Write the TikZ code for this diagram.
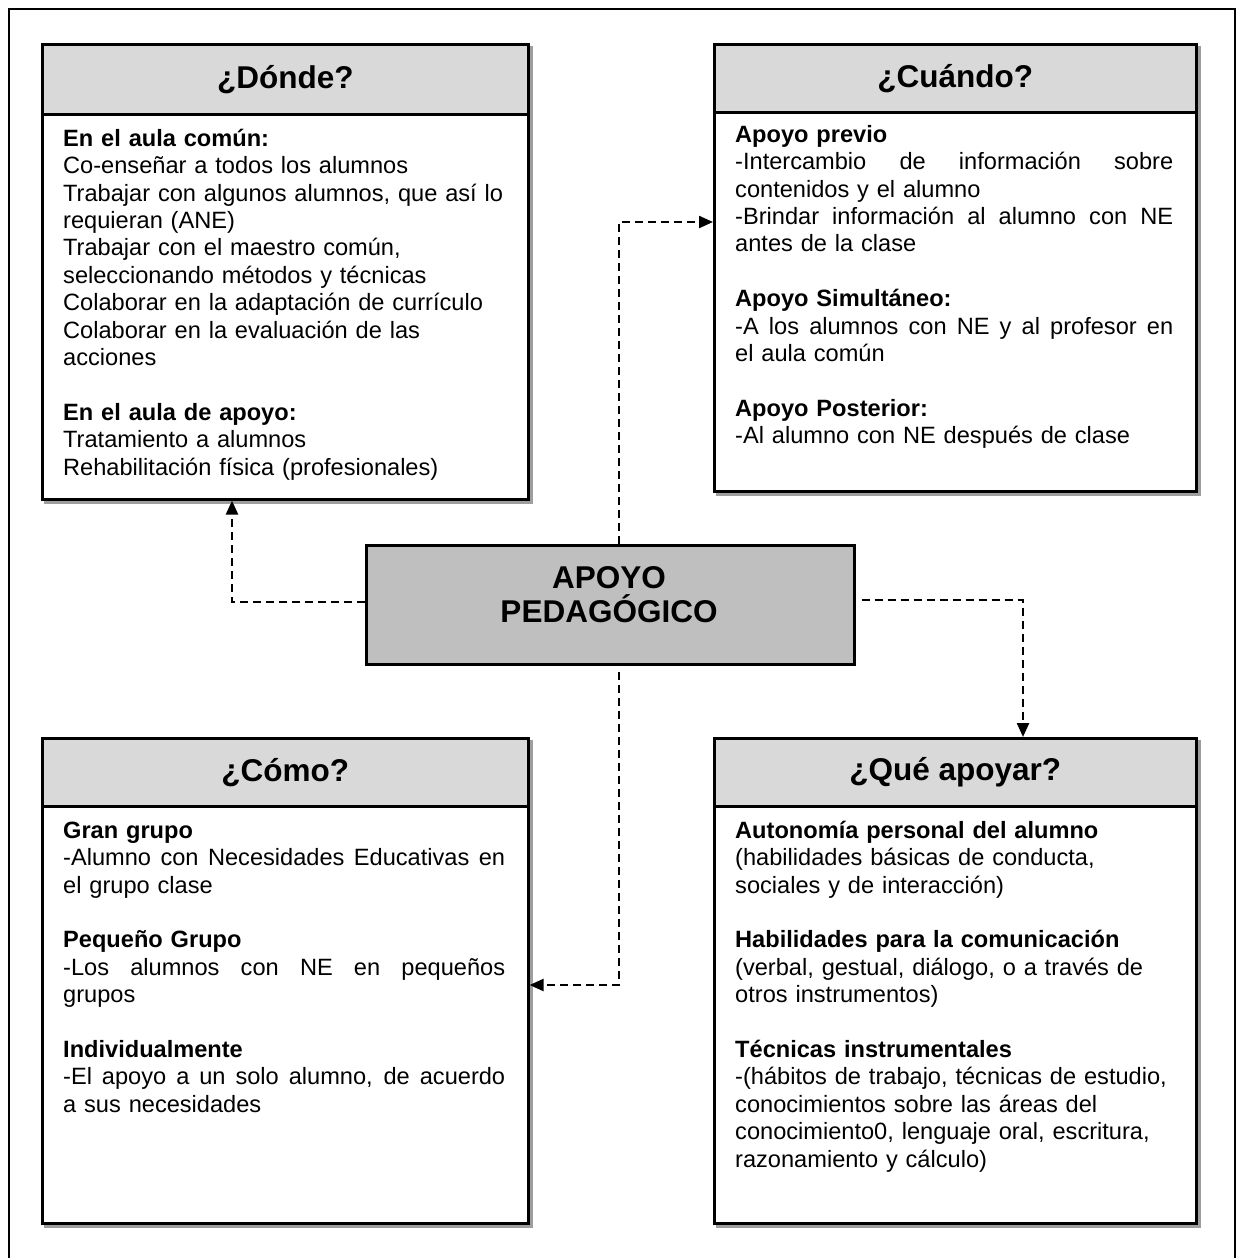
\documentclass[tikz,border=0pt]{standalone}
\usepackage{fontspec}
\setmainfont{Liberation Sans}
\usetikzlibrary{arrows.meta,calc}
\definecolor{hdrgray}{gray}{0.85}
\definecolor{midgray}{gray}{0.75}
\definecolor{shadowgray}{gray}{0.62}
\pgfdeclarelayer{bg}
\pgfsetlayers{bg,main}
% a line spread over the full text column (justified line)
\newcommand\jl[2][438pt]{\leavevmode\hbox to #1{\spaceskip=.278em plus 1fil\relax #2}}

\begin{document}
\begin{tikzpicture}[x=1pt,y=-1pt,
  frame/.style={line width=2pt},
  boxline/.style={draw, line width=2.6pt},
  hdr/.style={boxline, fill=hdrgray, inner sep=0pt, anchor=north west,
              font=\bfseries\fontsize{31.5}{36}\selectfont},
  bodybox/.style={boxline, fill=white, inner sep=0pt, anchor=north west},
  txt/.style={anchor=north west, inner sep=0pt, align=left, text width=470pt,
              font=\fontsize{23.6}{27.4}\selectfont},
  conn/.style={line width=2.3pt, dash pattern=on 8pt off 5pt,
               -{Triangle[length=14pt,width=12pt]}},
]
\useasboundingbox (0,0) rectangle (1237,1258);

% outer frame
\draw[frame] (9,1262) -- (9,9) -- (1235,9) -- (1235,1262);

% ---- ¿Dónde? ----
\node[bodybox, minimum width=486pt, minimum height=385pt] (db) at (41,113) {};
\node[hdr, minimum width=486pt, minimum height=70pt] (dh) at (41,43) {¿Dónde?};
\node[txt] (dt) at (63,127) {\strut\textbf{En el aula común:}\\
Co-enseñar a todos los alumnos\\
Trabajar con algunos alumnos, que así lo\\
requieran (ANE)\\
Trabajar con el maestro común,\\
seleccionando métodos y técnicas\\
Colaborar en la adaptación de currículo\\
Colaborar en la evaluación de las\\
acciones\\[27.4pt]
\textbf{En el aula de apoyo:}\\
Tratamiento a alumnos\\
Rehabilitación física (profesionales)};

% ---- ¿Cuándo? ----
\node[bodybox, minimum width=482pt, minimum height=379pt] (cb) at (713,111) {};
\node[hdr, minimum width=482pt, minimum height=68pt] (ch) at (713,43) {¿Cuándo?};
\node[txt] (cdt) at (735,123) {\strut\textbf{Apoyo previo}\\
\jl{-Intercambio de información sobre}\\
contenidos y el alumno\\
\jl{-Brindar información al alumno con NE}\\
antes de la clase\\[27.4pt]
\textbf{Apoyo Simultáneo:}\\
\jl{-A los alumnos con NE y al profesor en}\\
el aula común\\[27.4pt]
\textbf{Apoyo Posterior:}\\
-Al alumno con NE después de clase};

% ---- central node ----
\node[boxline, fill=midgray, inner sep=0pt, anchor=north west,
      minimum width=488pt, minimum height=119pt] (c) at (365,544) {};
\node[font=\bfseries\fontsize{31.5}{34}\selectfont, align=center] (ct) at (609,595) {APOYO\\PEDAGÓGICO};

% ---- ¿Cómo? ----
\node[bodybox, minimum width=486pt, minimum height=417pt] (ob) at (41,805) {};
\node[hdr, minimum width=486pt, minimum height=68pt] (oh) at (41,737) {¿Cómo?};
\node[txt] (ot) at (63,819) {\strut\textbf{Gran grupo}\\
\jl[442pt]{-Alumno con Necesidades Educativas en}\\
el grupo clase\\[27.4pt]
\textbf{Pequeño Grupo}\\
\jl[442pt]{-Los alumnos con NE en pequeños}\\
grupos\\[27.4pt]
\textbf{Individualmente}\\
\jl[442pt]{-El apoyo a un solo alumno, de acuerdo}\\
a sus necesidades};

% ---- ¿Qué apoyar? ----
\node[bodybox, minimum width=482pt, minimum height=417pt] (qb) at (713,805) {};
\node[hdr, minimum width=482pt, minimum height=68pt] (qh) at (713,737) {¿Qué apoyar?};
\node[txt] (qt) at (735,819) {\strut\textbf{Autonomía personal del alumno}\\
(habilidades básicas de conducta,\\
sociales y de interacción)\\[27.4pt]
\textbf{Habilidades para la comunicación}\\
(verbal, gestual, diálogo, o a través de\\
otros instrumentos)\\[27.4pt]
\textbf{Técnicas instrumentales}\\
-(hábitos de trabajo, técnicas de estudio,\\
conocimientos sobre las áreas del\\
conocimiento0, lenguaje oral, escritura,\\
razonamiento y cálculo)};

% ---- connectors ----
\coordinate (lb) at (232,602);
\coordinate (tb) at (619,222);
\coordinate (rb) at (1023,600);
\coordinate (bb) at (619,985);
\draw[conn] (c.west |- lb) -- (lb) -- (lb |- db.south);
\draw[conn] (tb |- c.north) -- (tb) -- (tb -| cb.west);
\draw[conn] ($(c.east |- rb)+(6,0)$) -- (rb) -- (rb |- qh.north);
\draw[conn] ($(bb |- c.south)+(0,6)$) -- (bb) -- (bb -| ob.east);

% ---- box shadows ----
\begin{pgfonlayer}{bg}
  \fill[shadowgray] ($(dh.north west)+(3,3)$) rectangle ($(db.south east)+(3,3)$);
  \fill[shadowgray] ($(ch.north west)+(3,3)$) rectangle ($(cb.south east)+(3,3)$);
  \fill[shadowgray] ($(oh.north west)+(3,3)$) rectangle ($(ob.south east)+(3,3)$);
  \fill[shadowgray] ($(qh.north west)+(3,3)$) rectangle ($(qb.south east)+(3,3)$);
\end{pgfonlayer}
\end{tikzpicture}
\end{document}
